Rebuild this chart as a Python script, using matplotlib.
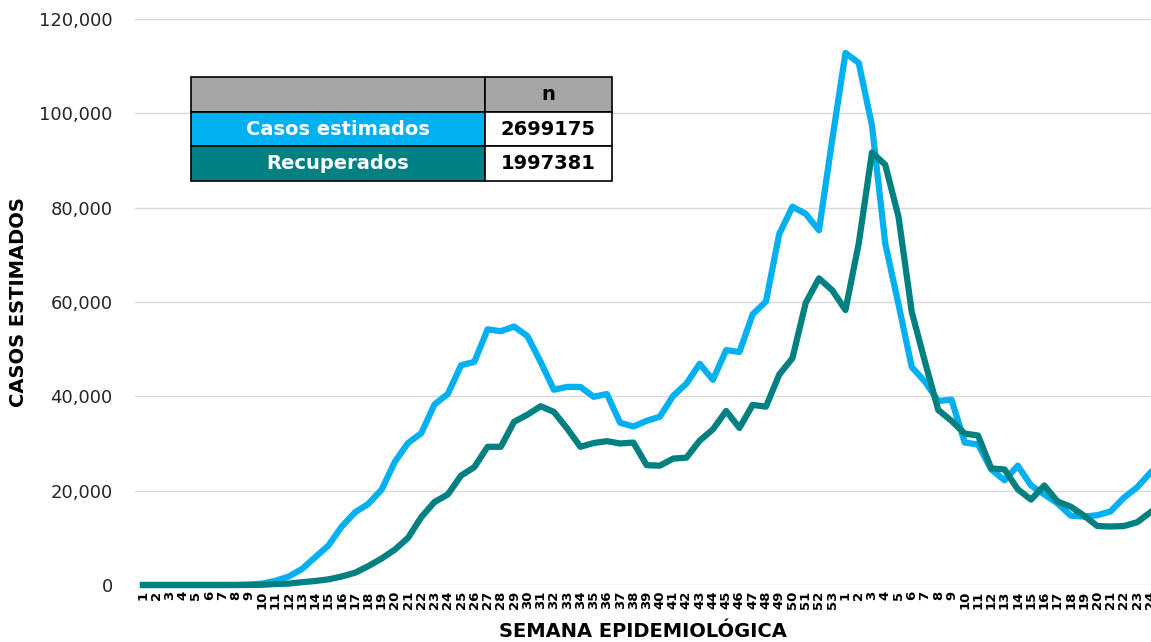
import matplotlib
matplotlib.use("Agg")
import matplotlib.pyplot as plt
from matplotlib.ticker import FuncFormatter

plt.rcParams["font.family"] = ["DejaVu Sans"]

# semanas epidemiologicas: 2020 (1-53) y 2021 (1-24)
semanas_2020 = list(range(1, 54))
semanas_2021 = list(range(1, 25))
etiquetas = [str(s) for s in semanas_2020 + semanas_2021]

casos_estimados = [
    0, 0, 0, 0, 0, 0, 0, 0, 100, 300,
    900, 1800, 3400, 5900, 8400, 12400, 15400, 17200, 20200, 26100,
    30100, 32200, 38300, 40500, 46600, 47300, 54200, 53800, 54800, 52800,
    47300, 41400, 42000, 42000, 39900, 40500, 34400, 33600, 34800, 35700,
    40100, 42700, 46900, 43500, 49800, 49400, 57400, 60100, 74400, 80200,
    78700, 75200, 94400, 112800, 110700, 97400, 72400, 59500, 46200, 43100,
    39000, 39300, 30200, 29800, 24500, 22200, 25300, 21100, 19200, 17300,
    14700, 14500, 14800, 15600, 18500, 20700, 23800,
]
recuperados = [
    0, 0, 0, 0, 0, 0, 0, 0, 0, 50,
    200, 300, 600, 850, 1200, 1800, 2600, 4000, 5600, 7500,
    10000, 14400, 17600, 19200, 23200, 25000, 29300, 29300, 34600, 36100,
    37900, 36700, 33200, 29300, 30100, 30500, 30000, 30200, 25400, 25300,
    26800, 27000, 30600, 33000, 36900, 33300, 38200, 37800, 44600, 48100,
    59800, 65000, 62500, 58300, 72400, 91700, 89100, 78100, 57900, 47300,
    37100, 34800, 32100, 31700, 24700, 24500, 20300, 18100, 21100, 17700,
    16600, 14700, 12500, 12400, 12500, 13300, 15400,
]

tabla_filas = ["Casos estimados", "Recuperados"]
tabla_n = ["2699175", "1997381"]

azul = "#00B0F0"
verde = "#008080"

fig = plt.figure(figsize=(11.51, 6.42), dpi=100)
ax = fig.add_axes([135 / 1151, 57 / 642, 1016 / 1151, 566 / 642])

x = list(range(len(etiquetas)))
ax.plot(x, casos_estimados, color=azul, linewidth=4.5, clip_on=False,
        solid_joinstyle="round", zorder=3)
ax.plot(x, recuperados, color=verde, linewidth=4.5, clip_on=False,
        solid_joinstyle="round", zorder=4)

ax.set_xlim(-0.6, 76.05)
ax.set_ylim(0, 120000)
ax.set_yticks(range(0, 120001, 20000))
ax.yaxis.set_major_formatter(FuncFormatter(lambda v, p: f"{int(v):,}"))
ax.set_xticks(x)
ax.set_xticklabels(etiquetas, rotation=90, fontsize=9.5, fontweight="bold")
ax.tick_params(axis="y", labelsize=13, labelcolor="#262626", length=0, pad=16)
ax.tick_params(axis="x", length=0, pad=4)

ax.grid(axis="y", color="#d9d9d9", linewidth=1)
ax.set_axisbelow(True)
for s in ax.spines.values():
    s.set_visible(False)

ax.set_ylabel("CASOS ESTIMADOS", fontsize=14, fontweight="bold", labelpad=8)
ax.set_xlabel("SEMANA EPIDEMIOLÓGICA", fontsize=14, fontweight="bold", labelpad=9)

# tabla de totales
tabla = ax.table(
    cellText=[["", "n"], [tabla_filas[0], tabla_n[0]], [tabla_filas[1], tabla_n[1]]],
    cellColours=[["#A6A6A6", "#A6A6A6"], [azul, "white"], [verde, "white"]],
    colWidths=[0.698, 0.302],
    bbox=[0.0551, 0.7138, 0.4144, 0.1837],
    cellLoc="center",
)
tabla.auto_set_font_size(False)
for (r, c), cell in tabla.get_celld().items():
    cell.set_edgecolor("black")
    cell.set_linewidth(1.2)
    txt = cell.get_text()
    txt.set_fontsize(14)
    txt.set_fontweight("bold")
    if c == 0 and r > 0:
        txt.set_color("white")
    else:
        txt.set_color("black")
tabla.set_zorder(5)

fig.savefig("out.png", dpi=100)
